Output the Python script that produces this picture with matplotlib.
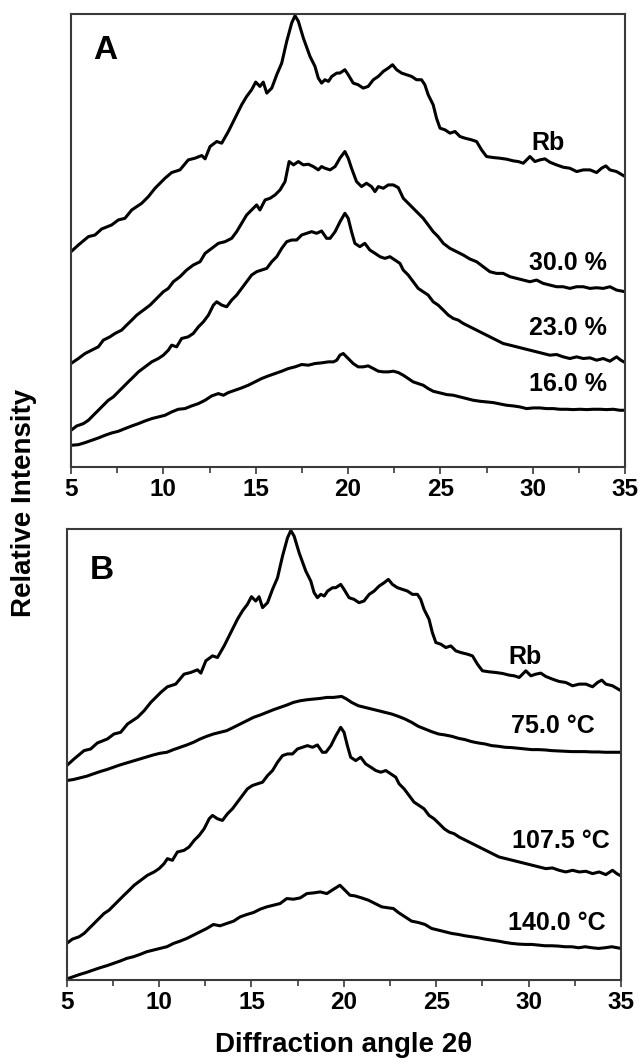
import matplotlib.pyplot as plt
from matplotlib.ticker import MultipleLocator

# Patrones de difracción (intensidad relativa en unidades arbitrarias, ya desplazadas)
rb_x = [5.0, 5.40, 5.94, 6.30, 6.66, 7.20, 7.56, 7.92, 8.29, 8.83, 9.19, 9.55, 10.09, 10.45,
        10.90, 11.35, 11.71, 12.08, 12.26, 12.53, 12.89, 13.16, 13.52, 13.88, 14.24, 14.51,
        14.78, 15.0, 15.23, 15.41, 15.60, 15.87, 16.14, 16.41, 16.68, 16.95, 17.13, 17.31,
        17.58, 17.94, 18.21, 18.39, 18.57, 18.75, 18.94, 19.12, 19.39,
        19.56, 19.83, 20.01, 20.28, 20.55, 20.82, 21.09, 21.37, 21.64, 21.91, 22.18, 22.41,
        22.63, 22.90, 23.17, 23.44, 23.71, 23.98, 24.16, 24.34, 24.61, 24.79, 24.98, 25.25,
        25.52, 25.79, 26.06, 26.33, 26.69, 26.96, 27.23, 27.50, 27.86, 28.22, 28.59, 28.95,
        29.22, 29.49, 29.85, 30.12, 30.39, 30.66, 30.93, 31.29, 31.65, 32.01, 32.38, 32.74,
        33.10, 33.46, 33.73, 33.96, 34.18, 34.54, 35.0]
rb_y = [645, 665, 690, 695, 713, 725, 740, 745, 770, 790, 810, 835, 865, 882, 890, 920, 925,
        933, 923, 960, 975, 970, 1005, 1045, 1085, 1110, 1130, 1153, 1140, 1153, 1120, 1135,
        1175, 1210, 1275, 1330, 1352, 1335, 1285, 1230, 1200, 1165, 1150, 1160, 1155, 1170, 1180,
        1180, 1190, 1175, 1150, 1145, 1135, 1140, 1160, 1170, 1185, 1195, 1205, 1190, 1180,
        1175, 1170, 1160, 1160, 1145, 1115, 1085, 1045, 1015, 1010, 1000, 1005, 990, 985, 980,
        975, 950, 930, 927, 925, 922, 917, 915, 910, 930, 915, 920, 923, 913, 905, 898, 895,
        885, 890, 890, 882, 895, 902, 890, 885, 870]

c30_x = [5.0, 5.40, 5.76, 6.12, 6.48, 6.75, 7.11, 7.38, 7.74, 8.01, 8.29, 8.56, 8.92, 9.28,
         9.64, 10.0, 10.27, 10.54, 10.90, 11.26, 11.62, 11.99, 12.26, 12.62, 12.98, 13.34,
         13.70, 13.97, 14.24, 14.51, 14.78, 15.05, 15.23, 15.51, 15.78, 16.05, 16.32, 16.59,
         16.81, 17.05, 17.31, 17.58, 17.85, 18.12, 18.39, 18.57, 18.75, 19.03, 19.30,
         19.56, 19.83, 20.01, 20.19, 20.46, 20.73, 21.0, 21.27, 21.46, 21.64, 21.91, 22.18,
         22.45, 22.72, 22.99, 23.26, 23.53, 23.80, 24.07, 24.34, 24.61, 24.88, 25.16, 25.52,
         25.88, 26.24, 26.60, 26.96, 27.32, 27.68, 28.04, 28.40, 28.77, 29.13, 29.49, 29.85,
         30.21, 30.57, 30.93, 31.29, 31.65, 32.01, 32.38, 32.74, 33.10, 33.46, 33.82, 34.18,
         34.54, 35.0]
c30_y = [310, 325, 340, 350, 360, 380, 390, 400, 410, 425, 440, 455, 470, 485, 505, 525, 535,
         555, 570, 590, 605, 615, 640, 655, 670, 675, 685, 705, 730, 755, 770, 785, 770, 800,
         805, 815, 830, 855, 915, 905, 915, 905, 907, 900, 890, 900, 895, 890, 900,
         925, 945, 925, 895, 855, 840, 850, 840, 825, 840, 835, 845, 845, 837, 805, 790, 775,
         760, 745, 725, 705, 690, 670, 655, 645, 635, 623, 615, 600, 585, 580, 580, 570, 565,
         560, 555, 560, 550, 545, 540, 540, 535, 540, 540, 535, 537, 535, 540, 530, 525]

c23_x = [5.0, 5.31, 5.67, 5.94, 6.21, 6.48, 6.75, 7.02, 7.29, 7.56, 7.83, 8.10, 8.38, 8.65,
         9.01, 9.37, 9.73, 10.0, 10.27, 10.45, 10.72, 10.99, 11.35, 11.62, 11.90, 12.17, 12.44,
         12.71, 12.89, 13.16, 13.43, 13.70, 13.97, 14.24, 14.51, 14.78, 15.05, 15.32, 15.60,
         15.87, 16.14, 16.41, 16.68, 16.95, 17.22, 17.49, 17.76, 18.03, 18.30, 18.57, 18.84,
         19.03, 19.30, 19.57,
         19.83, 20.01, 20.19, 20.37, 20.64, 20.91, 21.18, 21.46, 21.73, 22.0, 22.27, 22.54,
         22.81, 22.99, 23.26, 23.53, 23.80, 24.07, 24.34, 24.61, 24.88, 25.16, 25.43, 25.70,
         25.97, 26.24, 26.60, 26.96, 27.32, 27.68, 28.04, 28.40, 28.77, 29.13, 29.49, 29.85,
         30.21, 30.57, 30.93, 31.29, 31.65, 32.01, 32.38, 32.74, 33.10, 33.46, 33.82, 34.18,
         34.54, 34.77, 35.0]
c23_y = [110, 123, 130, 140, 155, 170, 185, 200, 210, 225, 240, 255, 270, 285, 300, 315, 325,
         335, 350, 365, 360, 385, 390, 400, 420, 435, 455, 485, 495, 485, 480, 500, 515, 535,
         555, 575, 585, 590, 595, 615, 630, 655, 675, 680, 680, 695, 700, 705, 700, 707, 685,
         685, 705, 735,
         760, 745, 705, 670, 660, 670, 650, 640, 630, 625, 630, 620, 610, 590, 575, 555, 535,
         525, 515, 495, 485, 470, 455, 445, 440, 430, 420, 410, 400, 390, 380, 370, 365, 360,
         355, 350, 345, 340, 335, 337, 330, 325, 330, 325, 327, 320, 325, 317, 330, 320, 313]

c16_x = [5.0, 5.40, 5.76, 6.12, 6.48, 6.84, 7.20, 7.56, 7.92, 8.29, 8.65, 9.01, 9.37, 9.73,
         10.09, 10.45, 10.81, 11.17, 11.53, 11.90, 12.26, 12.62, 12.98, 13.25, 13.52, 13.88,
         14.24, 14.60, 14.96, 15.32, 15.69, 16.05, 16.41, 16.77, 17.13, 17.49, 17.85, 18.21,
         18.57, 18.94, 19.21, 19.39,
         19.56, 19.74, 20.01, 20.28, 20.55, 20.82, 21.09, 21.37, 21.64, 21.91, 22.18, 22.45,
         22.72, 22.99, 23.26, 23.53, 23.80, 24.07, 24.34, 24.61, 24.98, 25.34, 25.70, 26.06,
         26.42, 26.78, 27.14, 27.50, 27.86, 28.22, 28.59, 28.95, 29.31, 29.67, 30.03, 30.39,
         30.75, 31.11, 31.47, 31.83, 32.20, 32.56, 32.92, 33.28, 33.64, 34.0, 34.36, 34.72, 35.0]
c16_y = [65, 67, 73, 80, 87, 95, 102, 107, 115, 123, 130, 138, 145, 150, 155, 165, 173, 175,
         183, 190, 200, 213, 220, 215, 223, 230, 237, 245, 255, 265, 273, 280, 287, 295, 300,
         307, 305, 310, 312, 315, 315, 320,
         335, 340, 325, 310, 300, 300, 303, 295, 287, 285, 285, 287, 283, 275, 265, 255, 250,
         245, 235, 227, 222, 217, 215, 210, 205, 200, 197, 195, 193, 189, 185, 183, 180, 175,
         177, 177, 175, 175, 173, 173, 172, 173, 172, 173, 173, 172, 173, 170, 170]

t_x_low = [5.0, 5.36, 5.72, 6.08, 6.44, 6.81, 7.17, 7.53, 7.89, 8.25, 8.61, 8.97, 9.33, 9.69,
           10.05, 10.42, 10.78, 11.14, 11.50, 11.86, 12.22, 12.58, 12.94, 13.30, 13.66, 14.03,
           14.39, 14.75, 15.11, 15.47, 15.83, 16.19, 16.55, 16.91, 17.27, 17.64, 18.0, 18.36,
           18.72, 19.08, 19.44]

t75_x = t_x_low + [19.88, 20.15, 20.42, 20.78, 21.14, 21.51, 21.87, 22.23, 22.59, 22.95,
                   23.31, 23.67, 24.03, 24.39, 24.75, 25.12, 25.48, 25.84, 26.20, 26.56, 26.92,
                   27.28, 27.64, 28.0, 28.36, 28.73, 29.09, 29.45, 29.81, 30.17, 30.53, 30.89,
                   31.25, 31.61, 31.97, 32.34, 32.70, 33.06, 33.42, 33.78, 34.14, 34.50, 35.0]
t75_y = [600, 603, 608, 613, 620, 627, 633, 640, 647, 653, 659, 665, 671, 677, 682, 685, 693,
         700, 707, 715, 725, 733, 740, 745, 750, 760, 770, 780, 790, 797, 805, 813, 820, 827,
         835, 840, 843, 845, 847, 850, 850,
         853, 845, 835, 825, 820, 815, 810, 805, 800, 793, 785, 775, 763, 755, 747, 740, 737,
         733, 727, 723, 717, 713, 710, 705, 703, 700, 699, 697, 695, 693, 693, 692, 690, 689,
         688, 687, 687, 687, 686, 686, 685, 685, 685]

t140_x = t_x_low + [19.79, 20.06, 20.33, 20.60, 20.96, 21.33, 21.69, 22.05, 22.41, 22.68,
                    22.95, 23.31, 23.67, 24.03, 24.39, 24.75, 25.12, 25.48, 25.84, 26.20, 26.56,
                    26.92, 27.28, 27.64, 28.0, 28.36, 28.73, 29.09, 29.45, 29.81, 30.17, 30.53,
                    30.89, 31.25, 31.61, 31.97, 32.34, 32.70, 33.06, 33.42, 33.78, 34.14, 34.50,
                    35.0]
t140_y = [3, 10, 17, 23, 30, 37, 43, 50, 57, 65, 70, 77, 85, 90, 95, 100, 110, 117, 125, 135,
          145, 155, 167, 163, 170, 177, 190, 197, 203, 213, 220, 225, 230, 245, 243, 247, 260,
          262, 265, 260, 273,
          285, 270, 255, 253, 247, 240, 230, 220, 217, 215, 203, 190, 177, 173, 167, 155, 150,
          145, 140, 137, 133, 130, 127, 123, 120, 117, 113, 110, 108, 107, 107, 105, 103, 103,
          102, 100, 100, 97, 100, 97, 95, 97, 100, 95]

# 107.5 °C es el mismo patrón que 23.0 %
t107_x = c23_x
t107_y = c23_y

plt.rcParams.update({
    "font.family": ["Liberation Sans", "DejaVu Sans"],
    "font.weight": "bold",
    "axes.edgecolor": "#3a3a3a",
    "axes.linewidth": 1.5,
})

fig = plt.figure(figsize=(6.42, 10.59), dpi=100)
ax_a = fig.add_axes([0.1106, 0.559, 0.863, 0.4278])
ax_b = fig.add_axes([0.1039, 0.0746, 0.8634, 0.426])

for ax in (ax_a, ax_b):
    ax.set_xlim(5, 35)
    ax.set_ylim(0, 1357)
    ax.set_yticks([])
    ax.xaxis.set_major_locator(MultipleLocator(5))
    ax.xaxis.set_minor_locator(MultipleLocator(2.5))
    ax.tick_params(axis="x", which="major", length=5, width=1.2, direction="out",
                   labelsize=17.5, pad=3, color="#3a3a3a")
    ax.tick_params(axis="x", which="minor", length=4, width=1.2, direction="out",
                   color="#3a3a3a")
    for lab in ax.get_xticklabels():
        lab.set_fontweight("bold")

lw = 2.2
# Panel A
ax_a.plot(rb_x, rb_y, color="black", lw=lw)
ax_a.plot(c30_x, c30_y, color="black", lw=lw)
ax_a.plot(c23_x, c23_y, color="black", lw=lw)
ax_a.plot(c16_x, c16_y, color="black", lw=lw)

ax_a.text(6.19, 1221, "A", fontsize=24, fontweight="bold", ha="left", va="baseline")
ax_a.text(31.75, 951, "Rb", fontsize=18, fontweight="bold", ha="right", va="baseline")
ax_a.text(34.02, 591, "30.0 %", fontsize=18, fontweight="bold", ha="right", va="baseline")
ax_a.text(34.02, 396, "23.0 %", fontsize=18, fontweight="bold", ha="right", va="baseline")
ax_a.text(34.02, 227, "16.0 %", fontsize=18, fontweight="bold", ha="right", va="baseline")

# Panel B
ax_b.plot(rb_x, rb_y, color="black", lw=lw)
ax_b.plot(t75_x, t75_y, color="black", lw=lw)
ax_b.plot(t107_x, t107_y, color="black", lw=lw)
ax_b.plot(t140_x, t140_y, color="black", lw=lw)

ax_b.text(6.26, 1206, "B", fontsize=24, fontweight="bold", ha="left", va="baseline")
ax_b.text(30.72, 951, "Rb", fontsize=18, fontweight="bold", ha="right", va="baseline")
ax_b.text(33.59, 744, "75.0 °C", fontsize=18, fontweight="bold", ha="right", va="baseline")
ax_b.text(34.40, 396, "107.5 °C", fontsize=18, fontweight="bold", ha="right", va="baseline")
ax_b.text(34.18, 150, "140.0 °C", fontsize=18, fontweight="bold", ha="right", va="baseline")

# Etiquetas de ejes
fig.text(0.037, 0.525, "Relative Intensity", rotation=90, fontsize=20, fontweight="bold",
         ha="center", va="center")
fig.text(0.536, 0.0135, "Diffraction angle 2θ", fontsize=20, fontweight="bold",
         ha="center", va="center")

fig.savefig("out.png", dpi=100)
